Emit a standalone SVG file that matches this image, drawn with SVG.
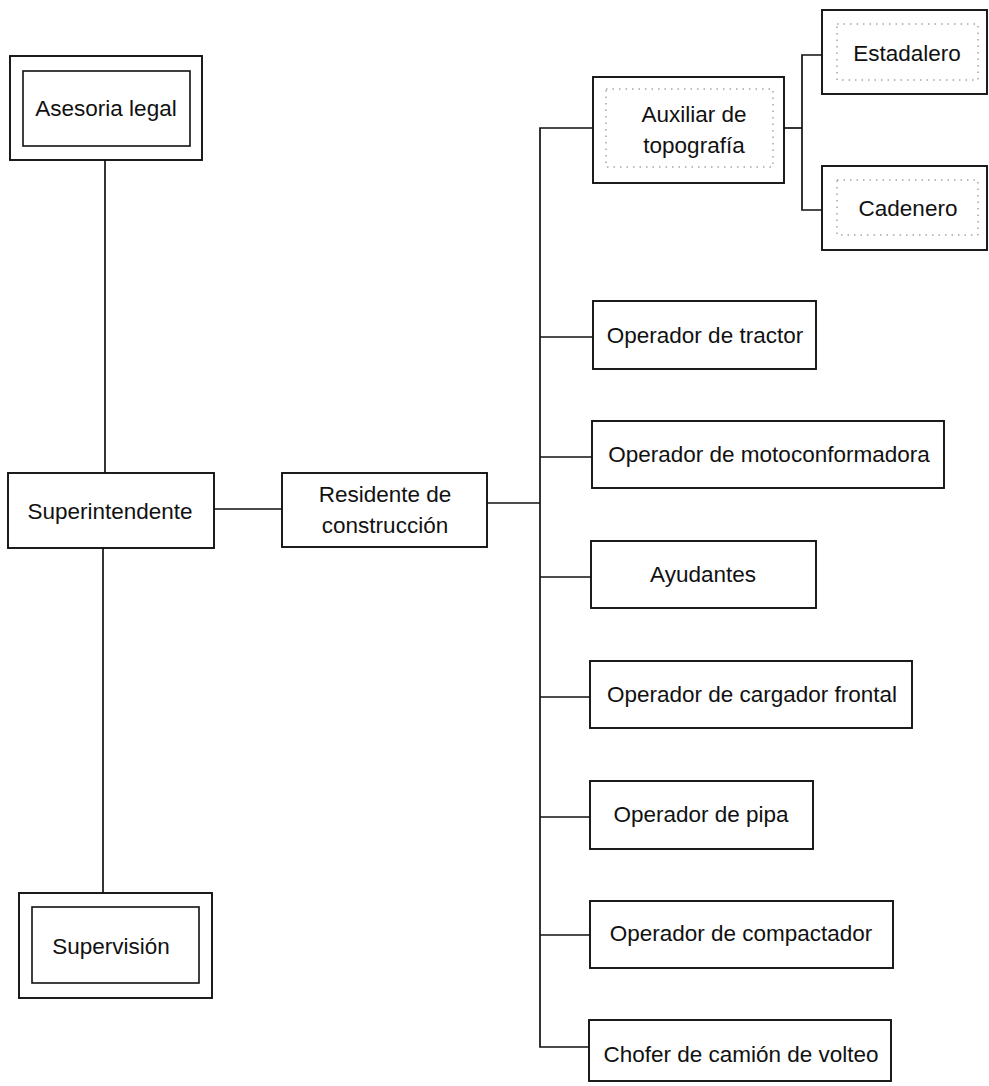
<svg xmlns="http://www.w3.org/2000/svg" width="989" height="1086" viewBox="0 0 989 1086">
  <style>
    .box { fill: #ffffff; stroke: #111111; stroke-width: 1.9; }
    .inner { fill: none; stroke: #111111; stroke-width: 1.6; }
    .dots { fill: none; stroke: #777777; stroke-width: 1; stroke-dasharray: 1.5 5; }
    .link { fill: none; stroke: #111111; stroke-width: 1.7; }
    text { font-family: "Liberation Sans", Arial, sans-serif; font-size: 22.5px; fill: #111111; text-anchor: middle; }
  </style>
  <rect width="989" height="1086" fill="#ffffff"/>

  <g id="connectors">
    <!-- left column -->
    <line class="link" x1="105" y1="160" x2="105" y2="473"/>
    <line class="link" x1="103" y1="548" x2="103" y2="893"/>
    <line class="link" x1="214" y1="509" x2="282" y2="509"/>
    <line class="link" x1="487" y1="503" x2="540" y2="503"/>
    <!-- main trunk with branches -->
    <path class="link" d="M593 128 H540 V1047 H589"/>
    <line class="link" x1="540" y1="337" x2="593" y2="337"/>
    <line class="link" x1="540" y1="457" x2="592" y2="457"/>
    <line class="link" x1="540" y1="577" x2="591" y2="577"/>
    <line class="link" x1="540" y1="697" x2="590" y2="697"/>
    <line class="link" x1="540" y1="817" x2="590" y2="817"/>
    <line class="link" x1="540" y1="935" x2="590" y2="935"/>
    <!-- topography sub-branch -->
    <line class="link" x1="784" y1="128" x2="802" y2="128"/>
    <path class="link" d="M822 55 H802 V210 H822"/>
  </g>

  <g id="asesoria-legal">
    <rect class="box" x="10" y="56" width="192" height="104"/>
    <rect class="inner" x="23" y="71" width="167" height="75"/>
    <text x="106" y="116">Asesoria legal</text>
  </g>

  <g id="superintendente">
    <rect class="box" x="8" y="473" width="206" height="75"/>
    <text x="110" y="519">Superintendente</text>
  </g>

  <g id="supervision">
    <rect class="box" x="19" y="893" width="193" height="105"/>
    <rect class="inner" x="32" y="907" width="167" height="76"/>
    <text x="111" y="954">Supervisión</text>
  </g>

  <g id="residente">
    <rect class="box" x="282" y="473" width="205" height="74"/>
    <text x="385" y="502">Residente de</text>
    <text x="385" y="533">construcción</text>
  </g>

  <g id="auxiliar-topografia">
    <rect class="box" x="593" y="77" width="191" height="106"/>
    <rect class="dots" x="606" y="89" width="167" height="78"/>
    <text x="694" y="122">Auxiliar de</text>
    <text x="694" y="153">topografía</text>
  </g>

  <g id="estadalero">
    <rect class="box" x="822" y="10" width="165" height="84"/>
    <rect class="dots" x="837" y="24" width="141" height="56"/>
    <text x="907" y="61">Estadalero</text>
  </g>

  <g id="cadenero">
    <rect class="box" x="822" y="166" width="165" height="84"/>
    <rect class="dots" x="837" y="180" width="141" height="55"/>
    <text x="908" y="216">Cadenero</text>
  </g>

  <g id="operador-tractor">
    <rect class="box" x="593" y="301" width="223" height="68"/>
    <text x="705" y="343">Operador de tractor</text>
  </g>

  <g id="operador-motoconformadora">
    <rect class="box" x="592" y="421" width="352" height="67"/>
    <text x="769" y="462">Operador de motoconformadora</text>
  </g>

  <g id="ayudantes">
    <rect class="box" x="591" y="541" width="225" height="67"/>
    <text x="703" y="582">Ayudantes</text>
  </g>

  <g id="operador-cargador">
    <rect class="box" x="590" y="661" width="322" height="67"/>
    <text x="752" y="702">Operador de cargador frontal</text>
  </g>

  <g id="operador-pipa">
    <rect class="box" x="590" y="781" width="223" height="68"/>
    <text x="701" y="822">Operador de pipa</text>
  </g>

  <g id="operador-compactador">
    <rect class="box" x="590" y="901" width="303" height="67"/>
    <text x="741" y="941">Operador de compactador</text>
  </g>

  <g id="chofer-volteo">
    <rect class="box" x="589" y="1020" width="302" height="61"/>
    <text x="741" y="1062">Chofer de camión de volteo</text>
  </g>
</svg>
